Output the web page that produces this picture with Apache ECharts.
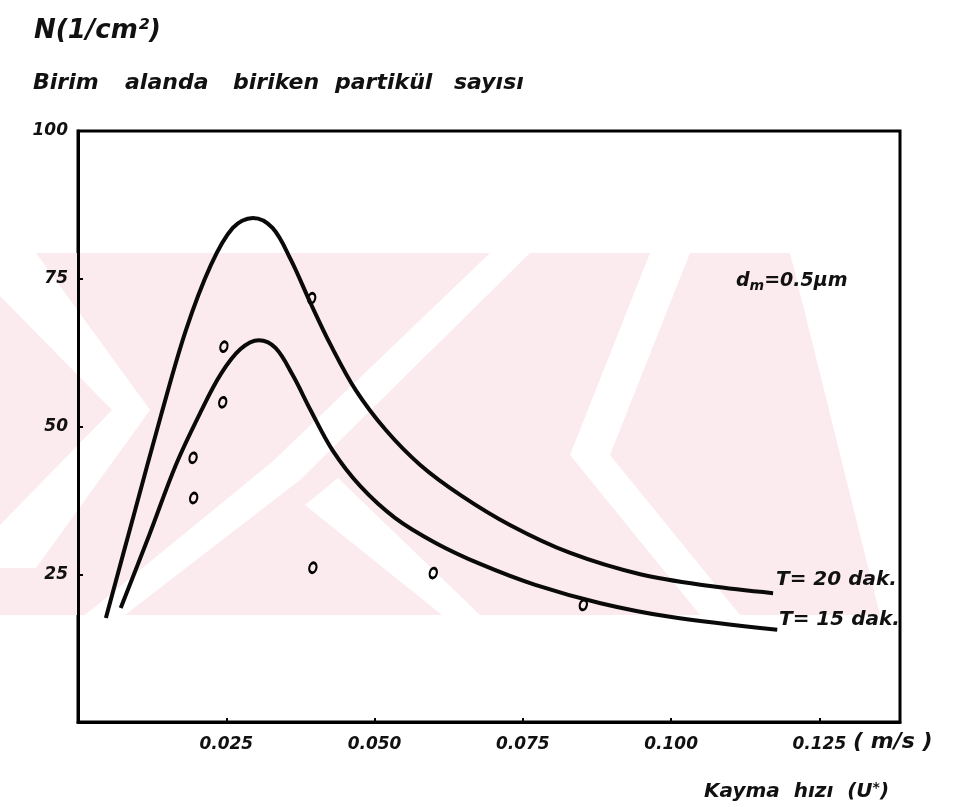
<!DOCTYPE html>
<html>
<head>
<meta charset="utf-8">
<script src="https://cdn.jsdelivr.net/npm/echarts@6/dist/echarts.min.js"></script>
<style>
  html, body { margin: 0; padding: 0; background: #fff; }
  #main { width: 953px; height: 807px; }
</style>
</head>
<body>
<div id="main"></div>
<script>
// kayma hizi (m/s) - N (1/cm2), okunan degerler
var t20X = [0.0047, 0.0094, 0.0140, 0.0182, 0.0224, 0.0261, 0.0295, 0.0328, 0.0359, 0.0392, 0.0426, 0.0468, 0.0519, 0.0577, 0.0645, 0.0729, 0.0830, 0.0948, 0.1066, 0.1172];
var t20Y = [17.6, 35.0, 51.9, 66.3, 77.3, 83.6, 85.3, 83.6, 78.2, 70.9, 63.8, 56.2, 49.4, 43.5, 38.4, 33.3, 28.6, 25.0, 23.0, 21.8];
var t15X = [0.0072, 0.0120, 0.0165, 0.0207, 0.0241, 0.0274, 0.0305, 0.0333, 0.0362, 0.0392, 0.0429, 0.0476, 0.0535, 0.0603, 0.0679, 0.0771, 0.0881, 0.0998, 0.1179];
var t15Y = [19.3, 31.6, 43.5, 52.5, 58.9, 63.1, 64.6, 63.3, 58.7, 52.8, 46.0, 39.9, 34.5, 30.3, 26.7, 23.2, 20.1, 17.8, 15.6];
var olcumX = [0.0394, 0.0246, 0.0244, 0.0194, 0.0195, 0.0396, 0.0599, 0.0852];
var olcumY = [71.7, 63.5, 54.1, 44.7, 37.9, 26.1, 25.2, 19.8];
var xTicks = ['0.025', '0.050', '0.075', '0.100', '0.125'];
var yTicks = ['25', '50', '75', '100'];

function pairs(xs, ys) {
  var out = [];
  for (var i = 0; i < xs.length; i++) {
    out.push([xs[i], ys[i]]);
  }
  return out;
}

var chart = echarts.init(document.getElementById('main'));
var el_font = 'DejaVu Sans';
var yaziStil = { fontFamily: el_font, fontStyle: 'italic', fontWeight: 'bold', fill: '#111' };

function yazi(txt, x, y, size) {
  return { type: 'text', left: x, top: y, style: Object.assign({ text: txt, fontSize: size }, yaziStil) };
}

// arka plandaki soluk pembe filigran
var pembe = '#fcebee';
var filigran = [
  { type: 'polygon', shape: { points: [[0, 253], [790, 253], [880, 615], [0, 615]] }, style: { fill: pembe } },
  { type: 'polygon', shape: { points: [[0, 253], [36, 253], [150, 410], [36, 568], [0, 568], [0, 525], [112, 410], [0, 296]] }, style: { fill: '#fff' } },
  { type: 'polygon', shape: { points: [[490, 253], [530, 253], [300, 480], [125, 615], [85, 615], [272, 462]] }, style: { fill: '#fff' } },
  { type: 'polygon', shape: { points: [[650, 253], [690, 253], [610, 455], [740, 615], [700, 615], [570, 455]] }, style: { fill: '#fff' } },
  { type: 'polygon', shape: { points: [[305, 505], [338, 478], [480, 615], [442, 615]] }, style: { fill: '#fff' } }
];

var yazilar = [
  yazi('N(1/cm²)', 34, 18, 26),
  yazi('Birim', 33, 72, 22),
  yazi('alanda', 125, 72, 22),
  yazi('biriken', 233, 72, 22),
  yazi('partikül', 335, 72, 22),
  yazi('sayısı', 454, 72, 22),
  { type: 'text', left: 736, top: 272, style: {
      text: '{d|d}{s|m}{d|=0.5μm}',
      rich: {
        d: { fontFamily: el_font, fontStyle: 'italic', fontWeight: 'bold', fontSize: 19, fill: '#111' },
        s: { fontFamily: el_font, fontStyle: 'italic', fontWeight: 'bold', fontSize: 14, fill: '#111', padding: [10, 0, 0, 0] }
      } } },
  yazi('T= 20 dak.', 776, 570, 20),
  yazi('T= 15 dak.', 779, 610, 20),
  yazi('( m/s )', 853, 731, 22),
  { type: 'text', left: 704, top: 781, style: {
      text: '{a|Kayma  hızı  (U}{b|*}{a|)}',
      rich: {
        a: { fontFamily: el_font, fontStyle: 'italic', fontWeight: 'bold', fontSize: 20, fill: '#111' },
        b: { fontFamily: el_font, fontStyle: 'italic', fontWeight: 'bold', fontSize: 14, fill: '#111', padding: [0, 0, 8, 0] }
      } } }
];

var eksenYazi = { fontFamily: el_font, fontStyle: 'italic', fontWeight: 'bold', fontSize: 17, color: '#111' };

var option = {
  backgroundColor: '#fff',
  animation: false,
  graphic: filigran.concat(yazilar),
  grid: {
    left: 78, right: 53, top: 131, bottom: 85,
    show: true,
    borderColor: '#000',
    borderWidth: 3,
    backgroundColor: 'transparent'
  },
  xAxis: {
    type: 'value',
    min: 0,
    max: 0.1386,
    interval: 0.025,
    splitLine: { show: false },
    axisLine: { lineStyle: { color: '#000', width: 3 } },
    axisTick: { inside: true, length: 4, lineStyle: { color: '#000', width: 2 } },
    axisLabel: Object.assign({
      margin: 14,
      showMaxLabel: false,
      formatter: function (v) {
        var i = Math.round(v / 0.025) - 1;
        return i >= 0 && i < xTicks.length ? xTicks[i] : '';
      }
    }, eksenYazi)
  },
  yAxis: {
    type: 'value',
    min: 0,
    max: 100,
    interval: 25,
    splitLine: { show: false },
    axisLine: { lineStyle: { color: '#000', width: 3 } },
    axisTick: { inside: true, length: 5, lineStyle: { color: '#000', width: 2 } },
    axisLabel: Object.assign({
      margin: 10,
      padding: [0, 0, 6, 0],
      formatter: function (v) {
        var i = Math.round(v / 25) - 1;
        return i >= 0 && i < yTicks.length ? yTicks[i] : '';
      }
    }, eksenYazi)
  },
  series: [
    {
      name: 'T= 20 dak.',
      type: 'line',
      data: pairs(t20X, t20Y),
      smooth: 0.35,
      symbol: 'none',
      lineStyle: { color: '#0a0a0a', width: 4 }
    },
    {
      name: 'T= 15 dak.',
      type: 'line',
      data: pairs(t15X, t15Y),
      smooth: 0.35,
      symbol: 'none',
      lineStyle: { color: '#0a0a0a', width: 4 }
    },
    {
      name: 'olcum',
      type: 'scatter',
      data: pairs(olcumX, olcumY),
      symbol: 'circle',
      symbolSize: [7, 10],
      symbolRotate: -15,
      itemStyle: { color: 'rgba(0,0,0,0)', borderColor: '#000', borderWidth: 2.5, opacity: 1 }
    }
  ]
};
chart.setOption(option);
</script>
</body>
</html>
